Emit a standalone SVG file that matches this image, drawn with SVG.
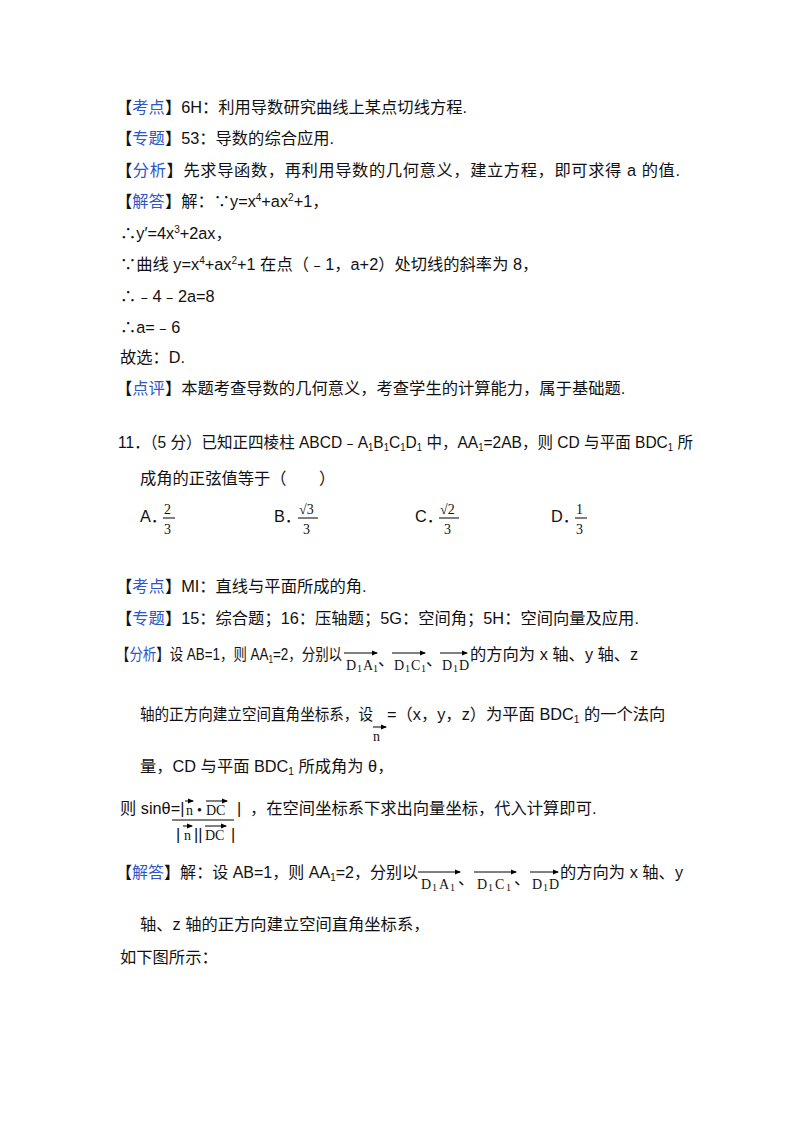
<svg xmlns="http://www.w3.org/2000/svg" width="800" height="1132" viewBox="0 0 800 1132">
<defs>
<marker id="ar" markerWidth="6" markerHeight="6" refX="5" refY="3" orient="auto" markerUnits="userSpaceOnUse"><path d="M0,0.5 L6,3 L0,5.5 z" fill="#000"/></marker>
</defs>
<style>
text{font-family:"Liberation Sans","Noto Sans CJK SC",sans-serif;font-size:16.3px;fill:#111}
.b{fill:#2f56c8}
.s{font-family:"Liberation Serif","Noto Sans CJK SC",serif;font-size:14px}
.t{font-family:"Liberation Serif",serif;font-size:10px}
.v{stroke:#000;stroke-width:1;fill:none}
</style>
<rect width="800" height="1132" fill="#fff"/>
<text x="116" y="113">【<tspan class="b">考点</tspan>】6H：利用导数研究曲线上某点切线方程.</text>
<text x="116" y="144">【<tspan class="b">专题</tspan>】53：导数的综合应用.</text>
<text x="116" y="176" textLength="564" lengthAdjust="spacing">【<tspan class="b">分析</tspan>】先求导函数，再利用导数的几何意义，建立方程，即可求得 a 的值.</text>
<text x="116" y="207">【<tspan class="b">解答</tspan>】解：∵y=x<tspan dy="-6" font-size="10">4</tspan><tspan dy="6">+ax</tspan><tspan dy="-6" font-size="10">2</tspan><tspan dy="6">+1，</tspan></text>
<text x="120" y="239">∴y′=4x<tspan dy="-6" font-size="10">3</tspan><tspan dy="6">+2ax，</tspan></text>
<text x="120" y="270">∵曲线 y=x<tspan dy="-6" font-size="10">4</tspan><tspan dy="6">+ax</tspan><tspan dy="-6" font-size="10">2</tspan><tspan dy="6">+1 在点（﹣1，a+2）处切线的斜率为 8，</tspan></text>
<text x="120" y="302">∴﹣4﹣2a=8</text>
<text x="120" y="333">∴a=﹣6</text>
<text x="120" y="363">故选：D.</text>
<text x="116" y="394">【<tspan class="b">点评</tspan>】本题考查导数的几何意义，考查学生的计算能力，属于基础题.</text>

<text x="118" y="448" textLength="575" lengthAdjust="spacingAndGlyphs">11．（5 分）已知正四棱柱 ABCD﹣A<tspan dy="3" font-size="10">1</tspan><tspan dy="-3">B</tspan><tspan dy="3" font-size="10">1</tspan><tspan dy="-3">C</tspan><tspan dy="3" font-size="10">1</tspan><tspan dy="-3">D</tspan><tspan dy="3" font-size="10">1</tspan><tspan dy="-3"> 中，AA</tspan><tspan dy="3" font-size="10">1</tspan><tspan dy="-3">=2AB，则 CD 与平面 BDC</tspan><tspan dy="3" font-size="10">1</tspan><tspan dy="-3"> 所</tspan></text>
<text x="140" y="484">成角的正弦值等于（　　）</text>
<g>
<text x="140" y="522">A．</text>
<text x="164" y="514" class="s">2</text><line x1="163" y1="518" x2="175" y2="518" stroke="#000"/><text x="164" y="534" class="s">3</text>
<text x="274" y="522">B．</text>
<text x="299" y="514" class="s">√3</text><line x1="298" y1="518" x2="318" y2="518" stroke="#000"/><text x="303" y="534" class="s">3</text>
<text x="415" y="522">C．</text>
<text x="440" y="514" class="s">√2</text><line x1="439" y1="518" x2="459" y2="518" stroke="#000"/><text x="444" y="534" class="s">3</text>
<text x="551" y="522">D．</text>
<text x="576" y="514" class="s">1</text><line x1="575" y1="518" x2="587" y2="518" stroke="#000"/><text x="576" y="534" class="s">3</text>
</g>

<text x="116" y="592">【<tspan class="b">考点</tspan>】MI：直线与平面所成的角.</text>
<text x="116" y="624">【<tspan class="b">专题</tspan>】15：综合题；16：压轴题；5G：空间角；5H：空间向量及应用.</text>

<text x="116" y="660" textLength="226" lengthAdjust="spacingAndGlyphs">【<tspan class="b">分析</tspan>】设 AB=1，则 AA<tspan dy="3" font-size="10">1</tspan><tspan dy="-3">=2，分别以</tspan></text>
<g>
<line class="v" x1="344" y1="653" x2="377" y2="653" marker-end="url(#ar)"/>
<text x="346" y="670" class="s">D</text><text x="357" y="672" class="t">1</text><text x="363" y="670" class="s">A</text><text x="373" y="672" class="t">1</text>
<text x="378" y="665" font-size="13">、</text>
<line class="v" x1="392" y1="653" x2="425" y2="653" marker-end="url(#ar)"/>
<text x="394" y="670" class="s">D</text><text x="405" y="672" class="t">1</text><text x="411" y="670" class="s">C</text><text x="421" y="672" class="t">1</text>
<text x="426" y="665" font-size="13">、</text>
<line class="v" x1="440" y1="653" x2="467" y2="653" marker-end="url(#ar)"/>
<text x="442" y="670" class="s">D</text><text x="453" y="672" class="t">1</text><text x="459" y="670" class="s">D</text>
</g>
<text x="470" y="660">的方向为 x 轴、y 轴、z</text>
<text x="140" y="720" textLength="233" lengthAdjust="spacingAndGlyphs">轴的正方向建立空间直角坐标系，设</text>
<line class="v" x1="373" y1="727" x2="386" y2="727" marker-end="url(#ar)"/>
<text x="373" y="741" class="s">n</text>
<text x="387" y="720">=（x，y，z）为平面 BDC<tspan dy="3" font-size="10">1</tspan><tspan dy="-3"> 的一个法向</tspan></text>
<text x="140" y="772">量，CD 与平面 BDC<tspan dy="3" font-size="10">1</tspan><tspan dy="-3"> 所成角为 θ，</tspan></text>
<text x="120" y="814">则 sinθ=|</text>
<g>
<line class="v" x1="185" y1="801" x2="193" y2="801" marker-end="url(#ar)"/>
<text x="186" y="815" class="s">n</text>
<text x="197" y="815" class="s">•</text>
<line class="v" x1="206" y1="801" x2="227" y2="801" marker-end="url(#ar)"/>
<text x="206" y="815" class="s">DC</text>
<text x="237" y="814">|</text>
<line x1="172" y1="820" x2="234" y2="820" stroke="#000"/>
<text x="176" y="840">|</text>
<line class="v" x1="183" y1="826" x2="192" y2="826" marker-end="url(#ar)"/>
<text x="184" y="840" class="s">n</text>
<text x="194" y="840">||</text>
<line class="v" x1="205" y1="826" x2="226" y2="826" marker-end="url(#ar)"/>
<text x="205" y="840" class="s">DC</text>
<text x="231" y="840">|</text>
</g>
<text x="250" y="814">，在空间坐标系下求出向量坐标，代入计算即可.</text>

<text x="116" y="878" textLength="302" lengthAdjust="spacingAndGlyphs">【<tspan class="b">解答</tspan>】解：设 AB=1，则 AA<tspan dy="3" font-size="10">1</tspan><tspan dy="-3">=2，分别以</tspan></text>
<g>
<line class="v" x1="418" y1="872" x2="460" y2="872" marker-end="url(#ar)"/>
<text x="421" y="889" class="s">D</text><text x="432" y="891" class="t">1</text><text x="439" y="889" class="s">A</text><text x="450" y="891" class="t">1</text>
<text x="458" y="884" font-size="13">、</text>
<line class="v" x1="474" y1="872" x2="516" y2="872" marker-end="url(#ar)"/>
<text x="477" y="889" class="s">D</text><text x="488" y="891" class="t">1</text><text x="495" y="889" class="s">C</text><text x="506" y="891" class="t">1</text>
<text x="514" y="884" font-size="13">、</text>
<line class="v" x1="530" y1="872" x2="558" y2="872" marker-end="url(#ar)"/>
<text x="532" y="889" class="s">D</text><text x="543" y="891" class="t">1</text><text x="549" y="889" class="s">D</text>
</g>
<text x="560" y="878">的方向为 x 轴、y</text>
<text x="140" y="930">轴、z 轴的正方向建立空间直角坐标系，</text>
<text x="120" y="963">如下图所示：</text>
</svg>
